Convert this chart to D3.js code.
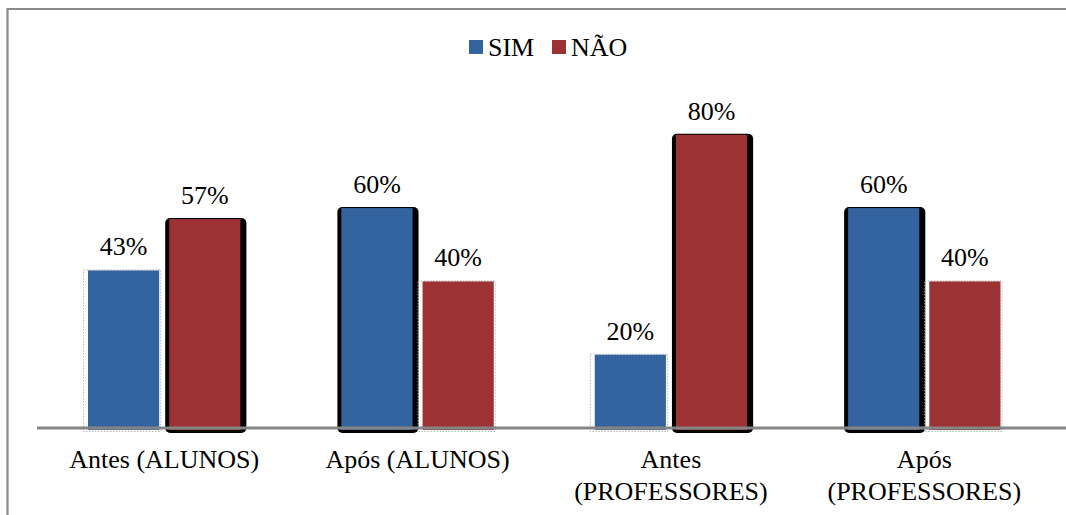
<!DOCTYPE html>
<html><head><meta charset="utf-8">
<script src="https://cdn.jsdelivr.net/npm/d3@7"></script>
<style>body{margin:0;background:#fff}svg{display:block}</style>
</head><body><svg id="c" width="1066" height="515" style="font-family:'Liberation Serif','DejaVu Serif',serif"></svg>
<script>
const categories = [["Antes (ALUNOS)"], ["Após (ALUNOS)"], ["Antes", "(PROFESSORES)"], ["Após", "(PROFESSORES)"]];
const seriesNames = ["SIM", "NÃO"];
const sim = [43, 60, 20, 60];
const nao = [57, 40, 80, 40];
const colors = ["#34649f", "#9c3234"];
const FONT = "'Liberation Serif','DejaVu Serif',serif";

const svg = d3.select("#c");
// frame
svg.append("path").attr("d", "M7.5,515 V9 H1066").attr("fill", "none").attr("stroke", "#8a8a8a").attr("stroke-width", 2.2);

const x0 = d3.scaleBand().domain(d3.range(categories.length)).range([37.5, 1051]).paddingInner(0).paddingOuter(0);
const x1 = d3.scaleBand().domain(d3.range(seriesNames.length)).range([50.5, x0.bandwidth() - 50.5]).paddingInner(10 / 81);
const y = d3.scaleLinear().domain([0, 100]).range([428, 61.5]);

const values = [sim, nao];
const data = [];
categories.forEach((c, i) => {
  const vals = values.map(v => v[i]);
  const mx = d3.max(vals);
  seriesNames.forEach((s, j) => data.push({i, j, v: values[j][i], big: values[j][i] === mx}));
});

const g = svg.append("g");
data.forEach(d => {
  const bx = x0(d.i) + x1(d.j), bw = x1.bandwidth(), by = y(d.v), bb = y(0) + 2;
  if (d.big) {
    g.append("rect").attr("x", bx - 4).attr("y", by - 1).attr("width", bw + 10).attr("height", bb + 3 - (by - 1))
      .attr("rx", 5).attr("fill", "#000");
  } else {
    g.append("rect").attr("x", bx - 4.5).attr("y", by - 0.5).attr("width", bw + 6).attr("height", bb + 2 - by)
      .attr("fill", "none").attr("stroke", "#b8b8b8").attr("stroke-width", 1).attr("stroke-dasharray", "1.5,1.5");
  }
  g.append("rect").attr("x", bx).attr("y", by).attr("width", bw).attr("height", bb - by).attr("fill", colors[d.j]);
  g.append("text").attr("x", bx + bw / 2).attr("y", by - 15).attr("text-anchor", "middle")
    .attr("font-family", FONT).attr("font-size", 26).attr("fill", "#000").text(d.v + "%");
});

// axis
const axis = svg.append("g").attr("transform", `translate(0,${y(0)})`).call(d3.axisBottom(x0).tickSize(0).tickFormat(""));
axis.select(".domain").remove();
svg.append("line").attr("x1", 37).attr("x2", 1066).attr("y1", y(0)).attr("y2", y(0)).attr("stroke", "#858585").attr("stroke-width", 3);

categories.forEach((lines, i) => {
  const cx = x0(i) + x0.bandwidth() / 2;
  const t = svg.append("text").attr("text-anchor", "middle").attr("font-size", 26)
    .attr("font-family", FONT).attr("fill", "#000").attr("x", cx).attr("y", 468);
  lines.forEach((l, k) => t.append("tspan").attr("x", cx).attr("dy", k ? 32 : 0).text(l));
});

// legend
const lg = svg.append("g");
const lx = [469, 552];
seriesNames.forEach((s, j) => {
  lg.append("rect").attr("x", lx[j]).attr("y", 40).attr("width", 14).attr("height", 14).attr("fill", colors[j]);
  lg.append("text").attr("x", lx[j] + 19).attr("y", 55.5).attr("font-size", 26)
    .attr("font-family", FONT).attr("fill", "#000").text(s);
});
</script></body></html>
